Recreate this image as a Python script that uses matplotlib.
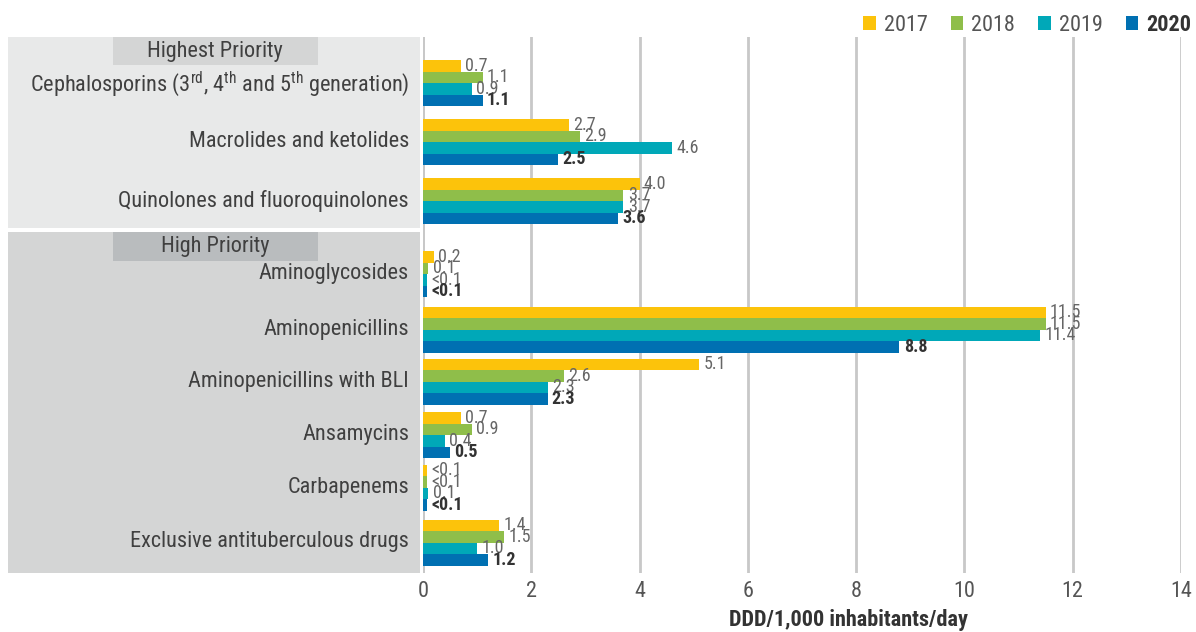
import matplotlib.pyplot as plt
from matplotlib import font_manager
from matplotlib.patches import Rectangle, Patch

# narrow face if present, otherwise a regular sans
installed = {f.name for f in font_manager.fontManager.ttflist}
face = next((f for f in ["Liberation Sans Narrow", "Roboto Condensed", "Roboto"] if f in installed), "DejaVu Sans")
plt.rcParams["font.family"] = [face, "DejaVu Sans"]
plt.rcParams["mathtext.fontset"] = "custom"
plt.rcParams["mathtext.rm"] = face

years = ["2017", "2018", "2019", "2020"]
colors = ["#fcc30b", "#8fbe4a", "#00a8b8", "#0070b2"]

categories = [
    r"Cephalosporins (3$^{\rm rd}$, 4$^{\rm th}$ and 5$^{\rm th}$ generation)",
    "Macrolides and ketolides",
    "Quinolones and fluoroquinolones",
    "Aminoglycosides",
    "Aminopenicillins",
    "Aminopenicillins with BLI",
    "Ansamycins",
    "Carbapenems",
    "Exclusive antituberculous drugs",
]

# DDD per 1,000 inhabitants per day, one list per year
v2017 = [0.7, 2.7, 4.0, 0.2, 11.5, 5.1, 0.7, 0.07, 1.4]
v2018 = [1.1, 2.9, 3.7, 0.1, 11.5, 2.6, 0.9, 0.08, 1.5]
v2019 = [0.9, 4.6, 3.7, 0.08, 11.4, 2.3, 0.4, 0.1, 1.0]
v2020 = [1.1, 2.5, 3.6, 0.07, 8.8, 2.3, 0.5, 0.08, 1.2]

l2017 = ["0.7", "2.7", "4.0", "0.2", "11.5", "5.1", "0.7", "<0.1", "1.4"]
l2018 = ["1.1", "2.9", "3.7", "0.1", "11.5", "2.6", "0.9", "<0.1", "1.5"]
l2019 = ["0.9", "4.6", "3.7", "<0.1", "11.4", "2.3", "0.4", "0.1", "1.0"]
l2020 = ["1.1", "2.5", "3.6", "<0.1", "8.8", "2.3", "0.5", "<0.1", "1.2"]

series = [v2017, v2018, v2019, v2020]
labels = [l2017, l2018, l2019, l2020]

W, H = 1196, 632
fig = plt.figure(figsize=(W / 100, H / 100), dpi=100)


def fx(px):
    return px / W


def fy(py):
    return 1 - py / H


def panel(x0, y0, x1, y1, color):
    fig.patches.append(Rectangle((fx(x0), fy(y1)), fx(x1 - x0), (y1 - y0) / H,
                                 transform=fig.transFigure, facecolor=color,
                                 edgecolor="none", zorder=-5))


# group panels on the left
panel(8, 37, 420, 228, "#e8e9e9")
panel(8, 232, 420, 573, "#d4d5d5")
panel(113, 37, 318, 65, "#d4d5d5")
panel(113, 232, 318, 261, "#b9bcbe")
fig.text(fx(215), fy(51), "Highest Priority", ha="center", va="center", fontsize=16, color="#404040")
fig.text(fx(215), fy(246), "High Priority", ha="center", va="center", fontsize=16, color="#404040")

ax = fig.add_axes([fx(423), fy(573), fx(1181 - 423), 536 / H])
ax.set_facecolor("none")

# group centres in the vertical layout (two sections, header gap between)
centres = [83, 142, 201, 274, 329.5, 381.5, 435, 487.5, 542.5]
bar_h = 11.5
offsets = [-1.5 * bar_h, -0.5 * bar_h, 0.5 * bar_h, 1.5 * bar_h]

for vals, labs, col, off, yr in zip(series, labels, colors, offsets, years):
    ys = [c + off for c in centres]
    ax.barh(ys, vals, height=bar_h, color=col, zorder=3)
    bold = yr == "2020"
    for y, v, t in zip(ys, vals, labs):
        ax.text(v + 0.08, y, t, va="center", ha="left", fontsize=13,
                color="#333333" if bold else "#666666",
                fontweight="bold" if bold else "normal", zorder=4)

ax.set_xlim(0, 14)
ax.set_ylim(573, 37)
ax.set_xticks(range(0, 15, 2))
ax.grid(axis="x", color="#c8c8c8", linewidth=2, zorder=1)
ax.axvline(0, color="#c8c8c8", linewidth=2, zorder=2)
for s in ax.spines.values():
    s.set_visible(False)
ax.tick_params(axis="x", length=0, pad=6, labelsize=16, labelcolor="#555555")
ax.set_yticks([c - 3 for c in centres], categories)
ax.tick_params(axis="y", length=0, pad=10, labelsize=16, labelcolor="#404040")

fig.text(fx(848), fy(620), "DDD/1,000 inhabitants/day", ha="center", va="center",
         fontsize=16, fontweight="bold", color="#333333")

handles = [Patch(facecolor=c, edgecolor="none") for c in colors]
leg = fig.legend(handles, years, loc="center right", bbox_to_anchor=(fx(1191), fy(25)),
                 ncol=4, frameon=False, fontsize=16, handlelength=0.55, handleheight=0.55,
                 handletextpad=0.36, columnspacing=1.05, borderpad=0, borderaxespad=0,
                 labelcolor="#555555")
leg.get_texts()[-1].set_fontweight("bold")
leg.get_texts()[-1].set_color("#333333")

fig.savefig("out.png", dpi=100)
